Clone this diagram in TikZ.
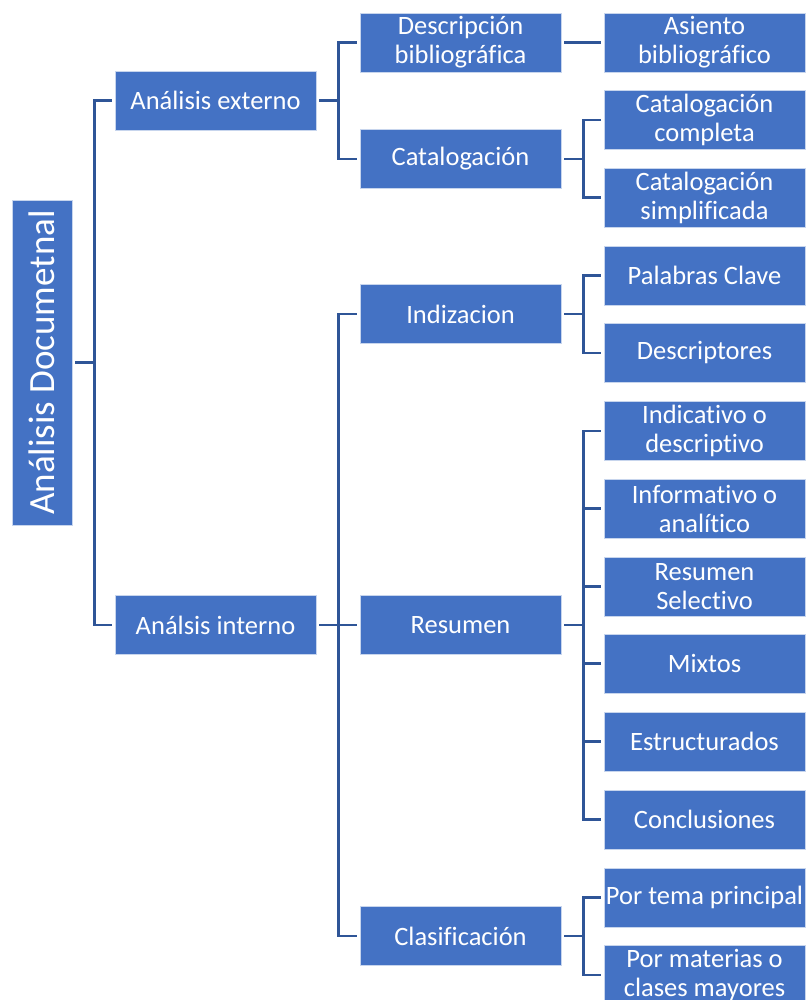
\documentclass[tikz,border=0pt]{standalone}
\usepackage{fontspec}
\setmainfont{Carlito}[Ligatures=CommonOff]
\definecolor{BoxBlue}{HTML}{4472C4}
\definecolor{EdgeBlue}{HTML}{2F5597}

\begin{document}
\begin{tikzpicture}[x=1pt,y=-1pt,
  box/.style={fill=BoxBlue,draw=BoxBlue!30!white,line width=0.8pt,text=white,
    minimum width=201pt,minimum height=59pt,inner sep=0pt,align=center,
    font=\fontsize{26.5}{29}\selectfont},
  conn/.style={EdgeBlue,line width=2.6pt}]
  \useasboundingbox (0,0) rectangle (805,1000);

  \node[box,minimum width=60pt,minimum height=325pt,font=\fontsize{37}{40}\selectfont]
    (root) at (42,362.5) {\rotatebox{90}{Análisis Documetnal}};

  % second and third column
  \foreach \name/\x/\y/\txt in {
    ext/215.5/100.5/Análisis externo,
    int/215.5/625/Análsis interno,
    desc/460.5/42.5/Descripción\\bibliográfica,
    cat/460.5/159/Catalogación,
    ind/460.5/314/Indizacion,
    res/460.5/625/Resumen,
    cla/460.5/936/Clasificación}{
      \node[box] (\name) at (\x,\y) {\txt};
  }

  % leaves
  \foreach \name/\y/\txt in {
    asi/42.5/Asiento\\bibliográfico,
    catc/120/Catalogación\\completa,
    cats/197.5/Catalogación\\simplificada,
    pal/275.5/Palabras Clave,
    des/353/Descriptores,
    ica/431/Indicativo o\\descriptivo,
    inf/508.5/Informativo o\\analítico,
    rsel/586.5/Resumen\\Selectivo,
    mix/663.5/Mixtos,
    est/741.5/Estructurados,
    con/819.5/Conclusiones,
    tem/897.5/Por tema principal,
    mat/975/Por materias o\\clases mayores}{
      \node[box] (\name) at (704.5,\y) {\txt};
  }

  \foreach \p/\c in {root/ext,root/int,ext/desc,ext/cat,int/ind,int/res,int/cla,
    desc/asi,cat/catc,cat/cats,ind/pal,ind/des,res/ica,res/inf,res/rsel,res/mix,
    res/est,res/con,cla/tem,cla/mat}
    \draw[conn] ([xshift=3pt]\p.east) -- ++(19,0) |- ([xshift=-3pt]\c.west);
\end{tikzpicture}
\end{document}
